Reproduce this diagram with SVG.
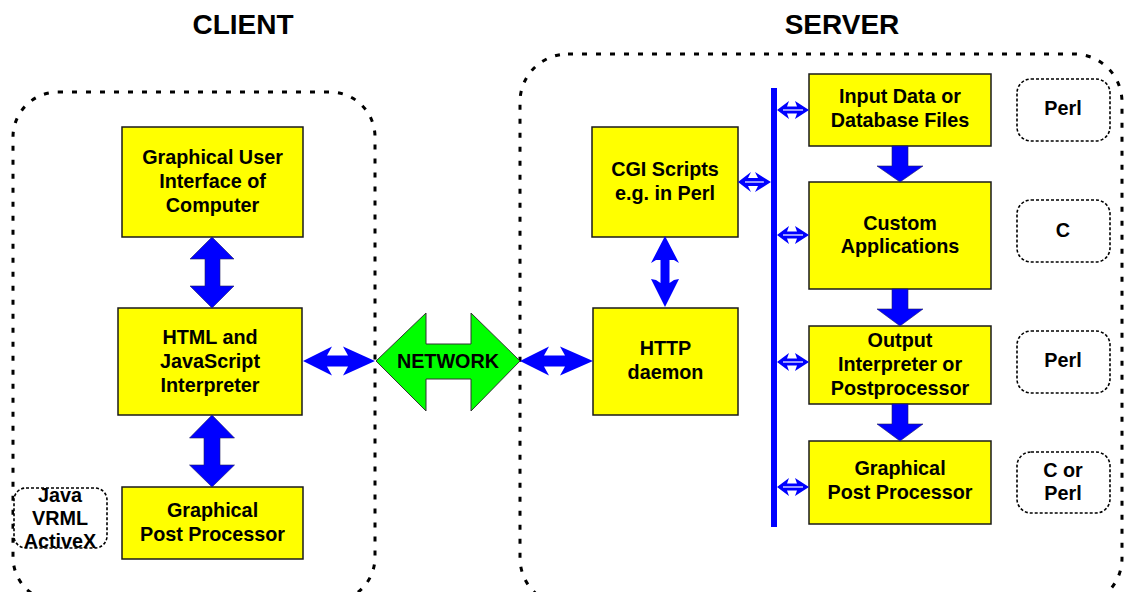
<svg xmlns="http://www.w3.org/2000/svg" width="1125" height="592" viewBox="0 0 1125 592">
<style>
.t{font-family:"Liberation Sans",Arial,sans-serif;font-weight:bold;font-size:19.8px;fill:#000;text-anchor:middle}
.title{font-size:28px}
.box{fill:#FFFF00;stroke:#1a1a1a;stroke-width:1.5}
.zone{fill:none;stroke:#000;stroke-width:3;stroke-dasharray:5 9}
.lbl{fill:#fff;stroke:#000;stroke-width:1.6;stroke-dasharray:3 2}
.ar{fill:#0000FF;stroke:#202060;stroke-width:0.6}
.ar2{fill:#0000FF}
.wl{stroke:#fff;stroke-width:1.2}
</style>
<rect width="1125" height="592" fill="#fff"/>
<g id="titles">
<text class="t title" x="243" y="34">CLIENT</text>
<text class="t title" x="842" y="34">SERVER</text>
</g>
<g id="client-zone"><rect class="zone" x="13" y="92" width="362" height="510" rx="45"/></g>
<g id="server-zone"><rect class="zone" x="520" y="54" width="602" height="552" rx="48"/></g>

<g id="gui"><rect class="box" x="122" y="127" width="181" height="110"/>
<text class="t" x="212.5" y="164">Graphical User</text><text class="t" x="212.5" y="188">Interface of</text><text class="t" x="212.5" y="212">Computer</text></g>
<g id="html"><rect class="box" x="118" y="308" width="184" height="107"/>
<text class="t" x="210" y="344">HTML and</text><text class="t" x="210" y="368">JavaScript</text><text class="t" x="210" y="392">Interpreter</text></g>
<g id="client-gpp"><rect class="box" x="122" y="487" width="181" height="72"/>
<text class="t" x="212.5" y="517">Graphical</text><text class="t" x="212.5" y="541">Post Processor</text></g>
<g id="java"><rect class="lbl" x="14" y="488" width="93" height="60" rx="12"/>
<text class="t" x="60" y="502">Java</text><text class="t" x="60" y="525">VRML</text><text class="t" x="60" y="548">ActiveX</text></g>

<g id="network"><polygon points="376,361 426,313 426,344 471,344 471,313 520,361 471,411 471,379 426,379 426,411" fill="#00FF00" stroke="#333" stroke-width="1"/>
<text class="t" x="448" y="368">NETWORK</text></g>

<g id="cgi"><rect class="box" x="592" y="127" width="146" height="110"/>
<text class="t" x="665" y="176">CGI Scripts</text><text class="t" x="665" y="200">e.g. in Perl</text></g>
<g id="http"><rect class="box" x="593" y="308" width="145" height="107"/>
<text class="t" x="665.5" y="355">HTTP</text><text class="t" x="665.5" y="379">daemon</text></g>

<g id="input"><rect class="box" x="809" y="74" width="182" height="72"/>
<text class="t" x="900" y="103">Input Data or</text><text class="t" x="900" y="127">Database Files</text></g>
<g id="custom"><rect class="box" x="809" y="182" width="182" height="107"/>
<text class="t" x="900" y="230">Custom</text><text class="t" x="900" y="253">Applications</text></g>
<g id="output"><rect class="box" x="809" y="326" width="182" height="78"/>
<text class="t" x="900" y="347">Output</text><text class="t" x="900" y="371">Interpreter or</text><text class="t" x="900" y="395">Postprocessor</text></g>
<g id="server-gpp"><rect class="box" x="809" y="441" width="182" height="83"/>
<text class="t" x="900" y="475">Graphical</text><text class="t" x="900" y="499">Post Processor</text></g>

<g id="lbl-perl1"><rect class="lbl" x="1017" y="79" width="93" height="62" rx="14"/><text class="t" x="1063" y="115">Perl</text></g>
<g id="lbl-c"><rect class="lbl" x="1017" y="200" width="93" height="62" rx="14"/><text class="t" x="1063" y="237">C</text></g>
<g id="lbl-perl2"><rect class="lbl" x="1017" y="331" width="93" height="62" rx="14"/><text class="t" x="1063" y="367">Perl</text></g>
<g id="lbl-cperl"><rect class="lbl" x="1017" y="452" width="93" height="61" rx="14"/><text class="t" x="1063" y="477">C or</text><text class="t" x="1063" y="500">Perl</text></g>

<g id="connectors">
<rect x="771" y="88" width="6" height="439" fill="#0000FF"/>
<polygon class="ar" points="212,237 234,259 220,259 220,286 234,286 212,308 190,286 205,286 205,259 190,259"/>
<polygon class="ar" points="212,415 234.5,438 220,438 220,465 234.5,465 212,487 189.5,465 204,465 204,438 189.5,438"/>
<polygon class="ar2" points="665,236 679,263 674,260 669.5,260 669.5,283 674,280 679,279 665,307 651,279 656,280 660.5,283 660.5,260 656,260 651,263"/>
<polygon class="ar2" points="303,361 332,346.5 327,355.5 348,355.5 343,346.5 375,361 343,375.5 348,366.5 327,366.5 332,375.5"/>
<polygon class="ar2" points="520,361 549,346.5 544,355.5 565,355.5 560,346.5 593,361 560,375.5 565,366.5 544,366.5 549,375.5"/>
<polygon class="ar2" points="738,182 751,172 748,178 758,178 755,172 771,182 755,192 758,186 748,186 751,192"/>
<line class="wl" x1="745" y1="182" x2="764" y2="182"/>
<polygon class="ar2" points="777,110 789,101 787,106.5 797,106.5 795,101 809,110 795,119 797,113.5 787,113.5 789,119"/>
<line class="wl" x1="783" y1="110" x2="803" y2="110"/>
<polygon class="ar2" points="777,235 789,226 787,231.5 797,231.5 795,226 809,235 795,244 797,238.5 787,238.5 789,244"/>
<line class="wl" x1="783" y1="235" x2="803" y2="235"/>
<polygon class="ar2" points="777,362 789,353 787,358.5 797,358.5 795,353 809,362 795,371 797,365.5 787,365.5 789,371"/>
<line class="wl" x1="783" y1="362" x2="803" y2="362"/>
<polygon class="ar2" points="777,487 789,478 787,483.5 797,483.5 795,478 809,487 795,496 797,490.5 787,490.5 789,496"/>
<line class="wl" x1="783" y1="487" x2="803" y2="487"/>
<polygon class="ar" points="892,146 908,146 908,166 923,166 900,182 877,166 892,166"/>
<polygon class="ar" points="892,289 908,289 908,309 923,309 900,326 877,309 892,309"/>
<polygon class="ar" points="892,404 908,404 908,424 923,424 900,441 877,424 892,424"/>
</g>
</svg>
